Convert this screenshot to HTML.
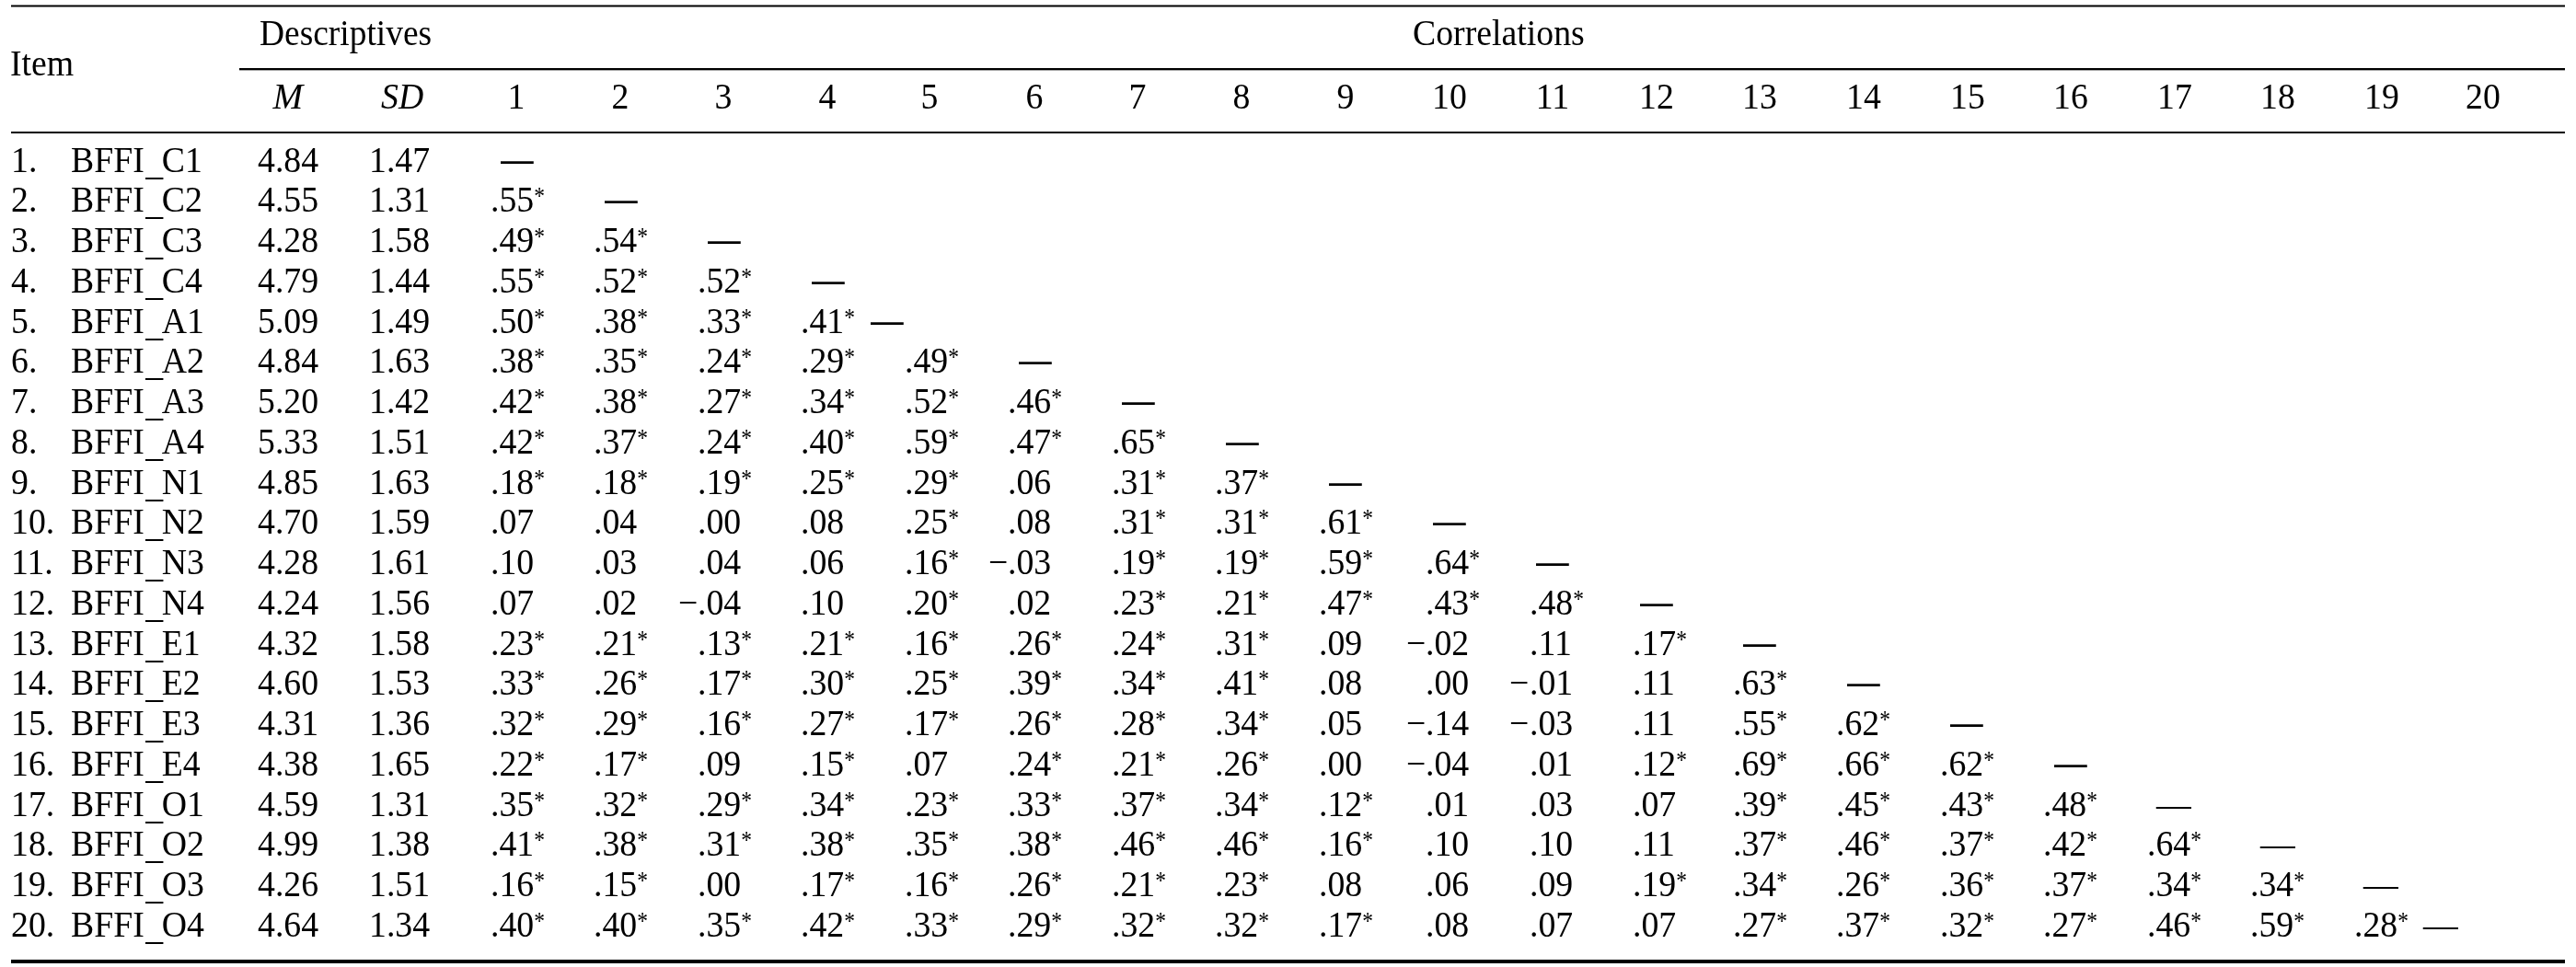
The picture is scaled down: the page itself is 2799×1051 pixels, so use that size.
<!DOCTYPE html>
<html><head><meta charset="utf-8"><title>Table</title>
<style>
html,body{margin:0;padding:0;background:#fff;}
body{width:2799px;height:1051px;position:relative;overflow:hidden;}
#w{position:absolute;left:0;top:0;width:2799px;height:1051px;will-change:transform;}
.t{position:absolute;font-family:"Liberation Serif","Times New Roman",serif;font-size:39.2px;line-height:50px;height:50px;white-space:pre;color:#000;transform-origin:0 0;transform:scaleX(0.964);}
.t.c{transform-origin:50% 0;transform:translateX(-50%) scaleX(0.964);}
.t.d{transform-origin:50% 28.9px;transform:translateX(-50%) translateY(-1.2px) scale(0.90,1.44);}
sup{font-size:27px;line-height:0;vertical-align:8.5px;display:inline-block;transform:scaleX(0.9);transform-origin:0 0;}
i{font-style:italic;}
u{text-decoration:none;position:relative;top:3px;left:1.5px;}
.r{position:absolute;left:12px;width:2775px;background:#000;}
</style></head><body><div id="w">
<div class="r" style="top:5px;height:3px;background:linear-gradient(to bottom,#808080 0,#808080 1px,#000 1px,#000 2px,#808080 2px,#808080 3px)"></div>
<div class="r" style="left:260px;width:2527px;top:74px;height:3px;background:linear-gradient(to bottom,#000 0,#000 2px,#a8a8a8 2px,#a8a8a8 3px)"></div>
<div class="r" style="top:143px;height:2px"></div>
<div class="r" style="top:1043px;height:4px"></div>
<span class="t" style="left:11.03px;top:44.00px">Item</span>
<span class="t" style="left:282.11px;top:11.00px;transform:scaleX(0.955)">Descriptives</span>
<span class="t" style="left:1535.35px;top:11.00px">Correlations</span>
<span class="t c" style="left:312.9px;top:80.00px;transform:translateX(-50%)"><i>M</i></span>
<span class="t" style="left:413.60px;top:80.00px"><i>SD</i></span>
<span class="t c" style="left:561.20px;top:80.00px">1</span>
<span class="t c" style="left:673.80px;top:80.00px">2</span>
<span class="t c" style="left:786.40px;top:80.00px">3</span>
<span class="t c" style="left:899.00px;top:80.00px">4</span>
<span class="t c" style="left:1010.30px;top:80.00px">5</span>
<span class="t c" style="left:1124.20px;top:80.00px">6</span>
<span class="t c" style="left:1235.80px;top:80.00px">7</span>
<span class="t c" style="left:1349.40px;top:80.00px">8</span>
<span class="t c" style="left:1462.00px;top:80.00px">9</span>
<span class="t c" style="left:1574.60px;top:80.00px">10</span>
<span class="t c" style="left:1687.20px;top:80.00px">11</span>
<span class="t c" style="left:1799.80px;top:80.00px">12</span>
<span class="t c" style="left:1912.40px;top:80.00px">13</span>
<span class="t c" style="left:2025.00px;top:80.00px">14</span>
<span class="t c" style="left:2137.60px;top:80.00px">15</span>
<span class="t c" style="left:2250.20px;top:80.00px">16</span>
<span class="t c" style="left:2362.80px;top:80.00px">17</span>
<span class="t c" style="left:2475.40px;top:80.00px">18</span>
<span class="t c" style="left:2588.00px;top:80.00px">19</span>
<span class="t c" style="left:2698.10px;top:80.00px">20</span>
<span class="t" style="left:12.30px;top:149.00px">1.</span>
<span class="t" style="left:77.11px;top:149.00px">BFFI<u>_</u>C1</span>
<span class="t" style="left:280.31px;top:149.00px">4.84</span>
<span class="t" style="left:401.31px;top:149.00px">1.47</span>
<span class="t d" style="left:562.00px;top:149.00px">—</span>
<span class="t" style="left:12.30px;top:192.00px">2.</span>
<span class="t" style="left:77.11px;top:192.00px">BFFI<u>_</u>C2</span>
<span class="t" style="left:280.31px;top:192.00px">4.55</span>
<span class="t" style="left:401.31px;top:192.00px">1.31</span>
<span class="t" style="left:532.91px;top:192.00px">.55<sup>*</sup></span>
<span class="t d" style="left:675.00px;top:192.00px">—</span>
<span class="t" style="left:12.30px;top:236.00px">3.</span>
<span class="t" style="left:77.11px;top:236.00px">BFFI<u>_</u>C3</span>
<span class="t" style="left:280.31px;top:236.00px">4.28</span>
<span class="t" style="left:401.31px;top:236.00px">1.58</span>
<span class="t" style="left:532.91px;top:236.00px">.49<sup>*</sup></span>
<span class="t" style="left:645.01px;top:236.00px">.54<sup>*</sup></span>
<span class="t d" style="left:786.80px;top:236.00px">—</span>
<span class="t" style="left:12.30px;top:280.00px">4.</span>
<span class="t" style="left:77.11px;top:280.00px">BFFI<u>_</u>C4</span>
<span class="t" style="left:280.31px;top:280.00px">4.79</span>
<span class="t" style="left:401.31px;top:280.00px">1.44</span>
<span class="t" style="left:532.91px;top:280.00px">.55<sup>*</sup></span>
<span class="t" style="left:645.01px;top:280.00px">.52<sup>*</sup></span>
<span class="t" style="left:757.91px;top:280.00px">.52<sup>*</sup></span>
<span class="t d" style="left:899.80px;top:280.00px">—</span>
<span class="t" style="left:12.30px;top:324.00px">5.</span>
<span class="t" style="left:77.11px;top:324.00px">BFFI<u>_</u>A1</span>
<span class="t" style="left:280.31px;top:324.00px">5.09</span>
<span class="t" style="left:401.31px;top:324.00px">1.49</span>
<span class="t" style="left:532.91px;top:324.00px">.50<sup>*</sup></span>
<span class="t" style="left:645.01px;top:324.00px">.38<sup>*</sup></span>
<span class="t" style="left:757.91px;top:324.00px">.33<sup>*</sup></span>
<span class="t" style="left:870.21px;top:324.00px">.41<sup>*</sup></span>
<span class="t d" style="left:964.00px;top:324.00px">—</span>
<span class="t" style="left:12.30px;top:367.00px">6.</span>
<span class="t" style="left:77.11px;top:367.00px">BFFI<u>_</u>A2</span>
<span class="t" style="left:280.31px;top:367.00px">4.84</span>
<span class="t" style="left:401.31px;top:367.00px">1.63</span>
<span class="t" style="left:532.91px;top:367.00px">.38<sup>*</sup></span>
<span class="t" style="left:645.01px;top:367.00px">.35<sup>*</sup></span>
<span class="t" style="left:757.91px;top:367.00px">.24<sup>*</sup></span>
<span class="t" style="left:870.21px;top:367.00px">.29<sup>*</sup></span>
<span class="t" style="left:982.91px;top:367.00px">.49<sup>*</sup></span>
<span class="t d" style="left:1124.80px;top:367.00px">—</span>
<span class="t" style="left:12.30px;top:411.00px">7.</span>
<span class="t" style="left:77.11px;top:411.00px">BFFI<u>_</u>A3</span>
<span class="t" style="left:280.31px;top:411.00px">5.20</span>
<span class="t" style="left:401.31px;top:411.00px">1.42</span>
<span class="t" style="left:532.91px;top:411.00px">.42<sup>*</sup></span>
<span class="t" style="left:645.01px;top:411.00px">.38<sup>*</sup></span>
<span class="t" style="left:757.91px;top:411.00px">.27<sup>*</sup></span>
<span class="t" style="left:870.21px;top:411.00px">.34<sup>*</sup></span>
<span class="t" style="left:982.91px;top:411.00px">.52<sup>*</sup></span>
<span class="t" style="left:1095.01px;top:411.00px">.46<sup>*</sup></span>
<span class="t d" style="left:1236.80px;top:411.00px">—</span>
<span class="t" style="left:12.30px;top:455.00px">8.</span>
<span class="t" style="left:77.11px;top:455.00px">BFFI<u>_</u>A4</span>
<span class="t" style="left:280.31px;top:455.00px">5.33</span>
<span class="t" style="left:401.31px;top:455.00px">1.51</span>
<span class="t" style="left:532.91px;top:455.00px">.42<sup>*</sup></span>
<span class="t" style="left:645.01px;top:455.00px">.37<sup>*</sup></span>
<span class="t" style="left:757.91px;top:455.00px">.24<sup>*</sup></span>
<span class="t" style="left:870.21px;top:455.00px">.40<sup>*</sup></span>
<span class="t" style="left:982.91px;top:455.00px">.59<sup>*</sup></span>
<span class="t" style="left:1095.01px;top:455.00px">.47<sup>*</sup></span>
<span class="t" style="left:1207.71px;top:455.00px">.65<sup>*</sup></span>
<span class="t d" style="left:1349.80px;top:455.00px">—</span>
<span class="t" style="left:12.30px;top:499.00px">9.</span>
<span class="t" style="left:77.11px;top:499.00px">BFFI<u>_</u>N1</span>
<span class="t" style="left:280.31px;top:499.00px">4.85</span>
<span class="t" style="left:401.31px;top:499.00px">1.63</span>
<span class="t" style="left:532.91px;top:499.00px">.18<sup>*</sup></span>
<span class="t" style="left:645.01px;top:499.00px">.18<sup>*</sup></span>
<span class="t" style="left:757.91px;top:499.00px">.19<sup>*</sup></span>
<span class="t" style="left:870.21px;top:499.00px">.25<sup>*</sup></span>
<span class="t" style="left:982.91px;top:499.00px">.29<sup>*</sup></span>
<span class="t" style="left:1095.01px;top:499.00px">.06</span>
<span class="t" style="left:1207.71px;top:499.00px">.31<sup>*</sup></span>
<span class="t" style="left:1320.01px;top:499.00px">.37<sup>*</sup></span>
<span class="t d" style="left:1462.00px;top:499.00px">—</span>
<span class="t" style="left:12.30px;top:542.00px">10.</span>
<span class="t" style="left:77.11px;top:542.00px">BFFI<u>_</u>N2</span>
<span class="t" style="left:280.31px;top:542.00px">4.70</span>
<span class="t" style="left:401.31px;top:542.00px">1.59</span>
<span class="t" style="left:532.91px;top:542.00px">.07</span>
<span class="t" style="left:645.01px;top:542.00px">.04</span>
<span class="t" style="left:757.91px;top:542.00px">.00</span>
<span class="t" style="left:870.21px;top:542.00px">.08</span>
<span class="t" style="left:982.91px;top:542.00px">.25<sup>*</sup></span>
<span class="t" style="left:1095.01px;top:542.00px">.08</span>
<span class="t" style="left:1207.71px;top:542.00px">.31<sup>*</sup></span>
<span class="t" style="left:1320.01px;top:542.00px">.31<sup>*</sup></span>
<span class="t" style="left:1432.91px;top:542.00px">.61<sup>*</sup></span>
<span class="t d" style="left:1575.10px;top:542.00px">—</span>
<span class="t" style="left:12.30px;top:586.00px">11.</span>
<span class="t" style="left:77.11px;top:586.00px">BFFI<u>_</u>N3</span>
<span class="t" style="left:280.31px;top:586.00px">4.28</span>
<span class="t" style="left:401.31px;top:586.00px">1.61</span>
<span class="t" style="left:532.91px;top:586.00px">.10</span>
<span class="t" style="left:645.01px;top:586.00px">.03</span>
<span class="t" style="left:757.91px;top:586.00px">.04</span>
<span class="t" style="left:870.21px;top:586.00px">.06</span>
<span class="t" style="left:982.91px;top:586.00px">.16<sup>*</sup></span>
<span class="t" style="left:1095.01px;top:586.00px">.03</span>
<span class="t" style="left:1073.70px;top:586.00px">−</span>
<span class="t" style="left:1207.71px;top:586.00px">.19<sup>*</sup></span>
<span class="t" style="left:1320.01px;top:586.00px">.19<sup>*</sup></span>
<span class="t" style="left:1432.91px;top:586.00px">.59<sup>*</sup></span>
<span class="t" style="left:1549.11px;top:586.00px">.64<sup>*</sup></span>
<span class="t d" style="left:1687.20px;top:586.00px">—</span>
<span class="t" style="left:12.30px;top:630.00px">12.</span>
<span class="t" style="left:77.11px;top:630.00px">BFFI<u>_</u>N4</span>
<span class="t" style="left:280.31px;top:630.00px">4.24</span>
<span class="t" style="left:401.31px;top:630.00px">1.56</span>
<span class="t" style="left:532.91px;top:630.00px">.07</span>
<span class="t" style="left:645.01px;top:630.00px">.02</span>
<span class="t" style="left:757.91px;top:630.00px">.04</span>
<span class="t" style="left:736.60px;top:630.00px">−</span>
<span class="t" style="left:870.21px;top:630.00px">.10</span>
<span class="t" style="left:982.91px;top:630.00px">.20<sup>*</sup></span>
<span class="t" style="left:1095.01px;top:630.00px">.02</span>
<span class="t" style="left:1207.71px;top:630.00px">.23<sup>*</sup></span>
<span class="t" style="left:1320.01px;top:630.00px">.21<sup>*</sup></span>
<span class="t" style="left:1432.91px;top:630.00px">.47<sup>*</sup></span>
<span class="t" style="left:1549.11px;top:630.00px">.43<sup>*</sup></span>
<span class="t" style="left:1661.61px;top:630.00px">.48<sup>*</sup></span>
<span class="t d" style="left:1799.80px;top:630.00px">—</span>
<span class="t" style="left:12.30px;top:674.00px">13.</span>
<span class="t" style="left:77.11px;top:674.00px">BFFI<u>_</u>E1</span>
<span class="t" style="left:280.31px;top:674.00px">4.32</span>
<span class="t" style="left:401.31px;top:674.00px">1.58</span>
<span class="t" style="left:532.91px;top:674.00px">.23<sup>*</sup></span>
<span class="t" style="left:645.01px;top:674.00px">.21<sup>*</sup></span>
<span class="t" style="left:757.91px;top:674.00px">.13<sup>*</sup></span>
<span class="t" style="left:870.21px;top:674.00px">.21<sup>*</sup></span>
<span class="t" style="left:982.91px;top:674.00px">.16<sup>*</sup></span>
<span class="t" style="left:1095.01px;top:674.00px">.26<sup>*</sup></span>
<span class="t" style="left:1207.71px;top:674.00px">.24<sup>*</sup></span>
<span class="t" style="left:1320.01px;top:674.00px">.31<sup>*</sup></span>
<span class="t" style="left:1432.91px;top:674.00px">.09</span>
<span class="t" style="left:1549.11px;top:674.00px">.02</span>
<span class="t" style="left:1527.80px;top:674.00px">−</span>
<span class="t" style="left:1661.61px;top:674.00px">.11</span>
<span class="t" style="left:1774.11px;top:674.00px">.17<sup>*</sup></span>
<span class="t d" style="left:1912.40px;top:674.00px">—</span>
<span class="t" style="left:12.30px;top:717.00px">14.</span>
<span class="t" style="left:77.11px;top:717.00px">BFFI<u>_</u>E2</span>
<span class="t" style="left:280.31px;top:717.00px">4.60</span>
<span class="t" style="left:401.31px;top:717.00px">1.53</span>
<span class="t" style="left:532.91px;top:717.00px">.33<sup>*</sup></span>
<span class="t" style="left:645.01px;top:717.00px">.26<sup>*</sup></span>
<span class="t" style="left:757.91px;top:717.00px">.17<sup>*</sup></span>
<span class="t" style="left:870.21px;top:717.00px">.30<sup>*</sup></span>
<span class="t" style="left:982.91px;top:717.00px">.25<sup>*</sup></span>
<span class="t" style="left:1095.01px;top:717.00px">.39<sup>*</sup></span>
<span class="t" style="left:1207.71px;top:717.00px">.34<sup>*</sup></span>
<span class="t" style="left:1320.01px;top:717.00px">.41<sup>*</sup></span>
<span class="t" style="left:1432.91px;top:717.00px">.08</span>
<span class="t" style="left:1549.11px;top:717.00px">.00</span>
<span class="t" style="left:1661.61px;top:717.00px">.01</span>
<span class="t" style="left:1640.30px;top:717.00px">−</span>
<span class="t" style="left:1774.11px;top:717.00px">.11</span>
<span class="t" style="left:1883.11px;top:717.00px">.63<sup>*</sup></span>
<span class="t d" style="left:2025.00px;top:717.00px">—</span>
<span class="t" style="left:12.30px;top:761.00px">15.</span>
<span class="t" style="left:77.11px;top:761.00px">BFFI<u>_</u>E3</span>
<span class="t" style="left:280.31px;top:761.00px">4.31</span>
<span class="t" style="left:401.31px;top:761.00px">1.36</span>
<span class="t" style="left:532.91px;top:761.00px">.32<sup>*</sup></span>
<span class="t" style="left:645.01px;top:761.00px">.29<sup>*</sup></span>
<span class="t" style="left:757.91px;top:761.00px">.16<sup>*</sup></span>
<span class="t" style="left:870.21px;top:761.00px">.27<sup>*</sup></span>
<span class="t" style="left:982.91px;top:761.00px">.17<sup>*</sup></span>
<span class="t" style="left:1095.01px;top:761.00px">.26<sup>*</sup></span>
<span class="t" style="left:1207.71px;top:761.00px">.28<sup>*</sup></span>
<span class="t" style="left:1320.01px;top:761.00px">.34<sup>*</sup></span>
<span class="t" style="left:1432.91px;top:761.00px">.05</span>
<span class="t" style="left:1549.11px;top:761.00px">.14</span>
<span class="t" style="left:1527.80px;top:761.00px">−</span>
<span class="t" style="left:1661.61px;top:761.00px">.03</span>
<span class="t" style="left:1640.30px;top:761.00px">−</span>
<span class="t" style="left:1774.11px;top:761.00px">.11</span>
<span class="t" style="left:1883.11px;top:761.00px">.55<sup>*</sup></span>
<span class="t" style="left:1995.31px;top:761.00px">.62<sup>*</sup></span>
<span class="t d" style="left:2136.60px;top:761.00px">—</span>
<span class="t" style="left:12.30px;top:805.00px">16.</span>
<span class="t" style="left:77.11px;top:805.00px">BFFI<u>_</u>E4</span>
<span class="t" style="left:280.31px;top:805.00px">4.38</span>
<span class="t" style="left:401.31px;top:805.00px">1.65</span>
<span class="t" style="left:532.91px;top:805.00px">.22<sup>*</sup></span>
<span class="t" style="left:645.01px;top:805.00px">.17<sup>*</sup></span>
<span class="t" style="left:757.91px;top:805.00px">.09</span>
<span class="t" style="left:870.21px;top:805.00px">.15<sup>*</sup></span>
<span class="t" style="left:982.91px;top:805.00px">.07</span>
<span class="t" style="left:1095.01px;top:805.00px">.24<sup>*</sup></span>
<span class="t" style="left:1207.71px;top:805.00px">.21<sup>*</sup></span>
<span class="t" style="left:1320.01px;top:805.00px">.26<sup>*</sup></span>
<span class="t" style="left:1432.91px;top:805.00px">.00</span>
<span class="t" style="left:1549.11px;top:805.00px">.04</span>
<span class="t" style="left:1527.80px;top:805.00px">−</span>
<span class="t" style="left:1661.61px;top:805.00px">.01</span>
<span class="t" style="left:1774.11px;top:805.00px">.12<sup>*</sup></span>
<span class="t" style="left:1883.11px;top:805.00px">.69<sup>*</sup></span>
<span class="t" style="left:1995.31px;top:805.00px">.66<sup>*</sup></span>
<span class="t" style="left:2108.11px;top:805.00px">.62<sup>*</sup></span>
<span class="t d" style="left:2250.20px;top:805.00px">—</span>
<span class="t" style="left:12.30px;top:849.00px">17.</span>
<span class="t" style="left:77.11px;top:849.00px">BFFI<u>_</u>O1</span>
<span class="t" style="left:280.31px;top:849.00px">4.59</span>
<span class="t" style="left:401.31px;top:849.00px">1.31</span>
<span class="t" style="left:532.91px;top:849.00px">.35<sup>*</sup></span>
<span class="t" style="left:645.01px;top:849.00px">.32<sup>*</sup></span>
<span class="t" style="left:757.91px;top:849.00px">.29<sup>*</sup></span>
<span class="t" style="left:870.21px;top:849.00px">.34<sup>*</sup></span>
<span class="t" style="left:982.91px;top:849.00px">.23<sup>*</sup></span>
<span class="t" style="left:1095.01px;top:849.00px">.33<sup>*</sup></span>
<span class="t" style="left:1207.71px;top:849.00px">.37<sup>*</sup></span>
<span class="t" style="left:1320.01px;top:849.00px">.34<sup>*</sup></span>
<span class="t" style="left:1432.91px;top:849.00px">.12<sup>*</sup></span>
<span class="t" style="left:1549.11px;top:849.00px">.01</span>
<span class="t" style="left:1661.61px;top:849.00px">.03</span>
<span class="t" style="left:1774.11px;top:849.00px">.07</span>
<span class="t" style="left:1883.11px;top:849.00px">.39<sup>*</sup></span>
<span class="t" style="left:1995.31px;top:849.00px">.45<sup>*</sup></span>
<span class="t" style="left:2108.11px;top:849.00px">.43<sup>*</sup></span>
<span class="t" style="left:2220.21px;top:849.00px">.48<sup>*</sup></span>
<span class="t c" style="left:2361.90px;top:849.00px">—</span>
<span class="t" style="left:12.30px;top:892.00px">18.</span>
<span class="t" style="left:77.11px;top:892.00px">BFFI<u>_</u>O2</span>
<span class="t" style="left:280.31px;top:892.00px">4.99</span>
<span class="t" style="left:401.31px;top:892.00px">1.38</span>
<span class="t" style="left:532.91px;top:892.00px">.41<sup>*</sup></span>
<span class="t" style="left:645.01px;top:892.00px">.38<sup>*</sup></span>
<span class="t" style="left:757.91px;top:892.00px">.31<sup>*</sup></span>
<span class="t" style="left:870.21px;top:892.00px">.38<sup>*</sup></span>
<span class="t" style="left:982.91px;top:892.00px">.35<sup>*</sup></span>
<span class="t" style="left:1095.01px;top:892.00px">.38<sup>*</sup></span>
<span class="t" style="left:1207.71px;top:892.00px">.46<sup>*</sup></span>
<span class="t" style="left:1320.01px;top:892.00px">.46<sup>*</sup></span>
<span class="t" style="left:1432.91px;top:892.00px">.16<sup>*</sup></span>
<span class="t" style="left:1549.11px;top:892.00px">.10</span>
<span class="t" style="left:1661.61px;top:892.00px">.10</span>
<span class="t" style="left:1774.11px;top:892.00px">.11</span>
<span class="t" style="left:1883.11px;top:892.00px">.37<sup>*</sup></span>
<span class="t" style="left:1995.31px;top:892.00px">.46<sup>*</sup></span>
<span class="t" style="left:2108.11px;top:892.00px">.37<sup>*</sup></span>
<span class="t" style="left:2220.21px;top:892.00px">.42<sup>*</sup></span>
<span class="t" style="left:2333.11px;top:892.00px">.64<sup>*</sup></span>
<span class="t c" style="left:2475.40px;top:892.00px">—</span>
<span class="t" style="left:12.30px;top:936.00px">19.</span>
<span class="t" style="left:77.11px;top:936.00px">BFFI<u>_</u>O3</span>
<span class="t" style="left:280.31px;top:936.00px">4.26</span>
<span class="t" style="left:401.31px;top:936.00px">1.51</span>
<span class="t" style="left:532.91px;top:936.00px">.16<sup>*</sup></span>
<span class="t" style="left:645.01px;top:936.00px">.15<sup>*</sup></span>
<span class="t" style="left:757.91px;top:936.00px">.00</span>
<span class="t" style="left:870.21px;top:936.00px">.17<sup>*</sup></span>
<span class="t" style="left:982.91px;top:936.00px">.16<sup>*</sup></span>
<span class="t" style="left:1095.01px;top:936.00px">.26<sup>*</sup></span>
<span class="t" style="left:1207.71px;top:936.00px">.21<sup>*</sup></span>
<span class="t" style="left:1320.01px;top:936.00px">.23<sup>*</sup></span>
<span class="t" style="left:1432.91px;top:936.00px">.08</span>
<span class="t" style="left:1549.11px;top:936.00px">.06</span>
<span class="t" style="left:1661.61px;top:936.00px">.09</span>
<span class="t" style="left:1774.11px;top:936.00px">.19<sup>*</sup></span>
<span class="t" style="left:1883.11px;top:936.00px">.34<sup>*</sup></span>
<span class="t" style="left:1995.31px;top:936.00px">.26<sup>*</sup></span>
<span class="t" style="left:2108.11px;top:936.00px">.36<sup>*</sup></span>
<span class="t" style="left:2220.21px;top:936.00px">.37<sup>*</sup></span>
<span class="t" style="left:2333.11px;top:936.00px">.34<sup>*</sup></span>
<span class="t" style="left:2444.81px;top:936.00px">.34<sup>*</sup></span>
<span class="t c" style="left:2586.90px;top:936.00px">—</span>
<span class="t" style="left:12.30px;top:980.00px">20.</span>
<span class="t" style="left:77.11px;top:980.00px">BFFI<u>_</u>O4</span>
<span class="t" style="left:280.31px;top:980.00px">4.64</span>
<span class="t" style="left:401.31px;top:980.00px">1.34</span>
<span class="t" style="left:532.91px;top:980.00px">.40<sup>*</sup></span>
<span class="t" style="left:645.01px;top:980.00px">.40<sup>*</sup></span>
<span class="t" style="left:757.91px;top:980.00px">.35<sup>*</sup></span>
<span class="t" style="left:870.21px;top:980.00px">.42<sup>*</sup></span>
<span class="t" style="left:982.91px;top:980.00px">.33<sup>*</sup></span>
<span class="t" style="left:1095.01px;top:980.00px">.29<sup>*</sup></span>
<span class="t" style="left:1207.71px;top:980.00px">.32<sup>*</sup></span>
<span class="t" style="left:1320.01px;top:980.00px">.32<sup>*</sup></span>
<span class="t" style="left:1432.91px;top:980.00px">.17<sup>*</sup></span>
<span class="t" style="left:1549.11px;top:980.00px">.08</span>
<span class="t" style="left:1661.61px;top:980.00px">.07</span>
<span class="t" style="left:1774.11px;top:980.00px">.07</span>
<span class="t" style="left:1883.11px;top:980.00px">.27<sup>*</sup></span>
<span class="t" style="left:1995.31px;top:980.00px">.37<sup>*</sup></span>
<span class="t" style="left:2108.11px;top:980.00px">.32<sup>*</sup></span>
<span class="t" style="left:2220.21px;top:980.00px">.27<sup>*</sup></span>
<span class="t" style="left:2333.11px;top:980.00px">.46<sup>*</sup></span>
<span class="t" style="left:2444.81px;top:980.00px">.59<sup>*</sup></span>
<span class="t" style="left:2557.81px;top:980.00px">.28<sup>*</sup></span>
<span class="t c" style="left:2652.00px;top:980.00px">—</span>
</div></body></html>
